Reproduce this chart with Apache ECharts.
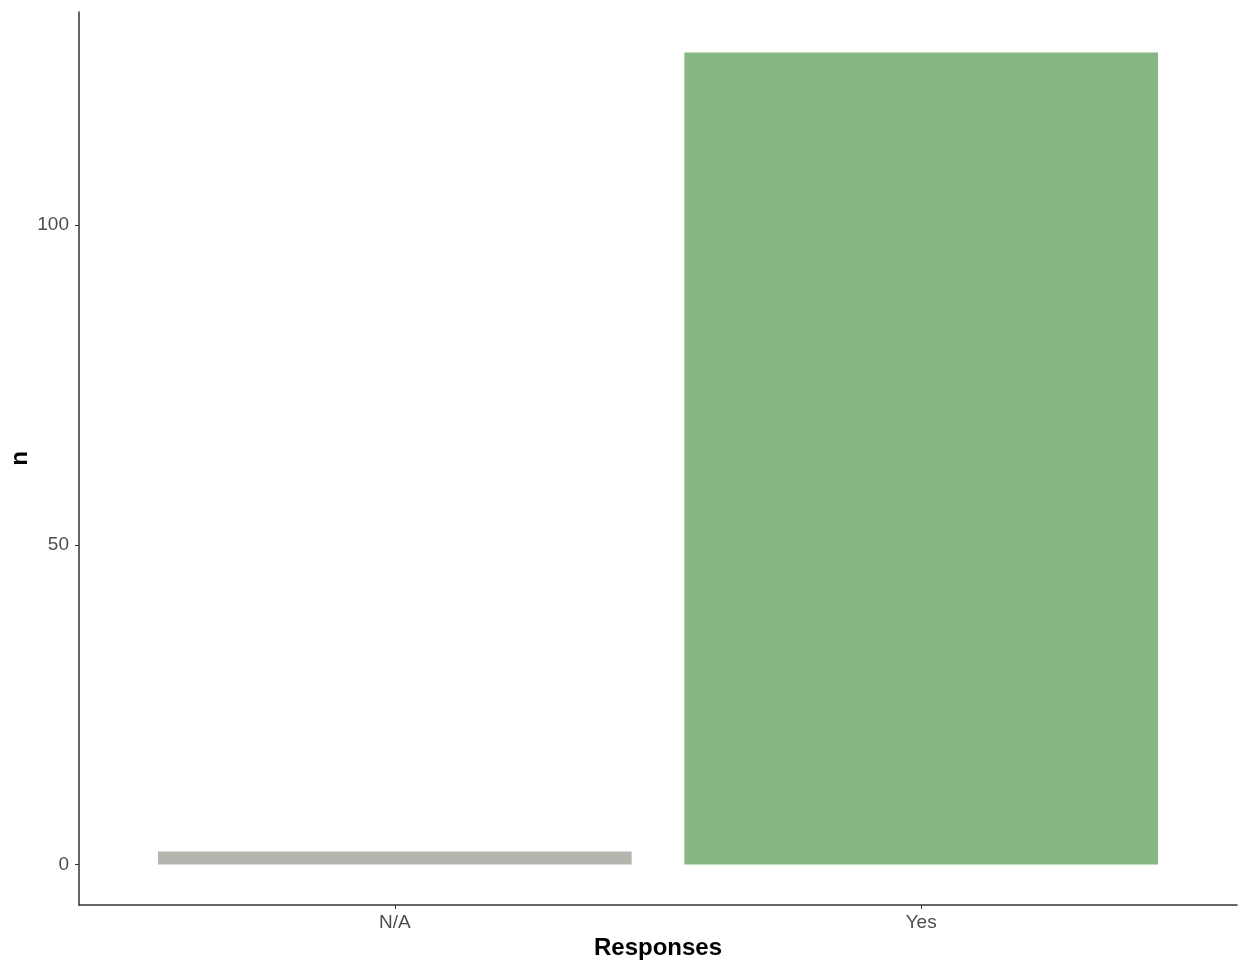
<!DOCTYPE html>
<html>
<head>
<meta charset="utf-8">
<script src="https://cdn.jsdelivr.net/npm/echarts@6/dist/echarts.min.js"></script>
<style>html,body{margin:0;padding:0;background:#fff;}#main{width:1242px;height:961px;}</style>
</head>
<body>
<div id="main"></div>
<script>
const categories = ["N/A", "Yes"];
const counts = [2, 127];
const barColors = ["#b3b5ae", "#86b783"];
const yTicks = [0, 50, 100];

const chart = echarts.init(document.getElementById('main'));
const yMax = Math.max(...counts);
const pad = yMax * 0.05;
const data = counts.map((v, i) => ({ value: [i + 1, v], itemStyle: { color: barColors[i] } }));
const font = 'Liberation Sans, Arial, sans-serif';

chart.setOption({
  animation: false,
  backgroundColor: '#ffffff',
  grid: { left: 79, right: 5, top: 12, bottom: 56, containLabel: false, outerBoundsMode: 'none' },
  xAxis: {
    type: 'value', min: 0.4, max: categories.length + 0.6,
    name: 'Responses', nameLocation: 'middle', nameGap: 31, nameMoveOverlap: false,
    nameTextStyle: { fontFamily: font, fontWeight: 'bold', fontSize: 24, color: '#000' },
    axisLine: { show: true, onZero: false, lineStyle: { color: '#333', width: 1.5 } },
    axisTick: { show: true, length: 4, lineStyle: { color: '#333' }, customValues: categories.map((c, i) => i + 1) },
    axisLabel: { customValues: categories.map((c, i) => i + 1), formatter: v => categories[Math.round(v) - 1] || '',
      color: '#4d4d4d', fontSize: 19, fontFamily: font, margin: 8 },
    splitLine: { show: false }
  },
  yAxis: {
    type: 'value', min: -pad, max: yMax + pad,
    name: 'n', nameLocation: 'middle', nameGap: 47, nameRotate: 90, nameMoveOverlap: false,
    nameTextStyle: { fontFamily: font, fontWeight: 'bold', fontSize: 24, color: '#000' },
    axisLine: { show: true, onZero: false, lineStyle: { color: '#333', width: 1.5 } },
    axisTick: { show: true, length: 4, lineStyle: { color: '#333' }, customValues: yTicks },
    axisLabel: { customValues: yTicks, color: '#4d4d4d', fontSize: 19, fontFamily: font, margin: 10 },
    splitLine: { show: false }
  },
  series: [{
    type: 'custom',
    data: data,
    renderItem: function (params, api) {
      const x = api.value(0), y = api.value(1);
      const top = api.coord([x, y]);
      const base = api.coord([x, 0]);
      const w = api.size([0.9, 0])[0];
      return {
        type: 'rect',
        shape: { x: top[0] - w / 2, y: top[1], width: w, height: base[1] - top[1] },
        style: { fill: api.visual('color') }
      };
    },
    encode: { x: 0, y: 1 }
  }]
});
</script>
</body>
</html>
